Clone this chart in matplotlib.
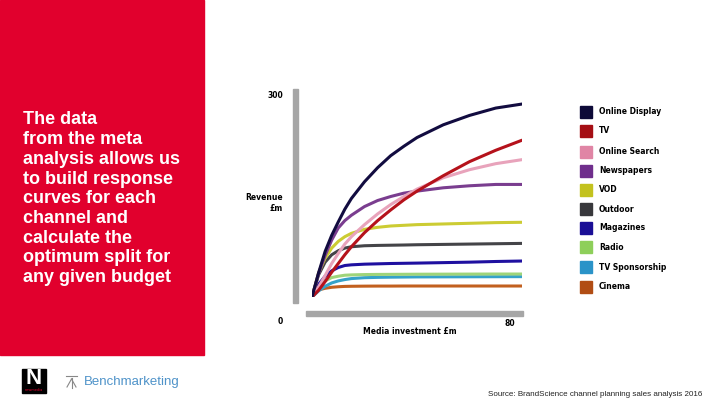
import matplotlib.pyplot as plt
from matplotlib.patches import Rectangle

# investment (£m) sample points shared by all curves
x = [0, 2.5, 5, 7.5, 10, 12.5, 15, 20, 25, 30, 35, 40, 50, 60, 70, 80]

channels = ["Online Display", "TV", "Online Search", "Newspapers", "VOD",
            "Outdoor", "Magazines", "Radio", "TV Sponsorship", "Cinema"]

# revenue (£m)
online_display = [0, 36, 68, 92, 112, 131, 147, 172, 193, 211, 225, 238, 257, 271, 282, 288]
tv = [0, 10, 23, 37, 50, 63, 75, 96, 114, 130, 145, 158, 181, 202, 219, 234]
online_search = [0, 15, 32, 50, 65, 79, 90, 108, 124, 138, 150, 161, 178, 190, 199, 205]
newspapers = [0, 35, 62, 85, 103, 114, 122, 135, 144, 150, 155, 158, 163, 166, 168, 168]
vod = [0, 36, 58, 73, 83, 90, 95, 101, 104, 106, 107, 108, 109, 110, 111, 111.5]
outdoor = [0, 33, 52, 63, 69, 73, 75, 76.5, 77, 77.3, 77.6, 78, 78.5, 79, 79.5, 80]
magazines = [0, 19, 31, 39, 44, 47, 48, 49, 49.5, 50, 50.3, 50.6, 51.3, 52, 53, 53.7]
radio = [0, 15, 24, 29, 31, 32.5, 33, 33.5, 33.7, 33.8, 33.9, 34, 34.1, 34.2, 34.3, 34.3]
tv_sponsorship = [0, 9, 16, 21, 24, 26, 27.5, 28.8, 29.3, 29.6, 29.8, 30, 30.1, 30.2, 30.3, 30.4]
cinema = [0, 10.5, 13, 14.5, 15.3, 15.8, 16, 16.2, 16.3, 16.3, 16.4, 16.4, 16.4, 16.4, 16.4, 16.4]

series = [online_display, tv, online_search, newspapers, vod,
          outdoor, magazines, radio, tv_sponsorship, cinema]

line_colors = ["#120c40", "#b5121b", "#e8a3bb", "#7a3d8f", "#cccc33",
               "#444448", "#1f10a0", "#9fd47a", "#35a2c9", "#c2601f"]
box_colors = ["#0d0a38", "#a50e14", "#e085a5", "#6f2e8c", "#c3c21e",
              "#38383c", "#1a0e96", "#8ecf5a", "#2a93c8", "#b14d14"]

fig = plt.figure(figsize=(7.2, 4.05), dpi=100)

# background layer in pixel coordinates
bg = fig.add_axes([0, 0, 1, 1])
bg.set_xlim(0, 720)
bg.set_ylim(405, 0)
bg.axis("off")

bg.add_patch(Rectangle((0, 0), 204, 355, color="#e1002d"))
panel_text = ["The data", "from the meta", "analysis allows us",
              "to build response", "curves for each", "channel and",
              "calculate the", "optimum split for", "any given budget"]
for i, line in enumerate(panel_text):
    bg.text(23, 120 + i * 19.7, line, color="white", fontsize=13,
            fontweight="bold", family="Liberation Sans", va="center")

# axis bars
bg.add_patch(Rectangle((292.5, 89), 5.5, 214, color="#a6a6a6"))
bg.add_patch(Rectangle((306, 311), 217, 4.5, color="#a6a6a6"))

small = dict(fontsize=5.5, fontweight="bold", color="black", family="DejaVu Sans")
bg.text(283, 96, "300", ha="right", va="center", **small)
bg.text(283, 203, "Revenue\n£m", ha="right", va="center", linespacing=1.3, **small)
bg.text(283, 322, "0", ha="right", va="center", **small)
bg.text(515, 323, "80", ha="right", va="center", **small)
bg.text(410, 332, "Media investment £m", ha="center", va="center", **small)

# legend
leg_y = [112, 130.7, 151.5, 170.5, 190, 209, 228, 247, 267, 286.5]
for name, col, yy in zip(channels, box_colors, leg_y):
    bg.add_patch(Rectangle((580, yy - 6), 12, 12, color=col))
    bg.text(599, yy, name, ha="left", va="center", **small)

# logos and source
bg.add_patch(Rectangle((22, 369), 24, 24, color="black"))
bg.text(34, 378, "N", color="white", fontsize=16, fontweight="bold",
        ha="center", va="center", family="Liberation Sans")
bg.text(34, 390, "newmedia", color="#e1002d", fontsize=2.5, ha="center",
        va="center")
bg.plot([66, 77], [376, 376], color="#888888", lw=0.8)
bg.plot([71.5, 71.5], [378, 388], color="#888888", lw=0.8)
bg.plot([71.5, 67], [379, 387], color="#888888", lw=0.8)
bg.plot([71.5, 76], [379, 387], color="#888888", lw=0.8)
bg.text(84, 382, "Benchmarketing", color="#4f93c9", fontsize=9.5,
        ha="left", va="center", family="Liberation Sans")
bg.text(702, 394, "Source: BrandScience channel planning sales analysis 2016",
        fontsize=5.8, color="#222222", ha="right", va="center",
        family="Liberation Sans")

# response curves
ax = fig.add_axes([312 / 720, (405 - 297) / 405, 210 / 720, 201 / 405])
ax.patch.set_alpha(0)
for vals, col in zip(series[::-1], line_colors[::-1]):
    ax.plot(x, vals, color=col, lw=2.2, solid_capstyle="round",
            solid_joinstyle="round")
ax.set_xlim(0, 80)
ax.set_ylim(0, 300)
ax.axis("off")

fig.savefig("out.png", dpi=100)
